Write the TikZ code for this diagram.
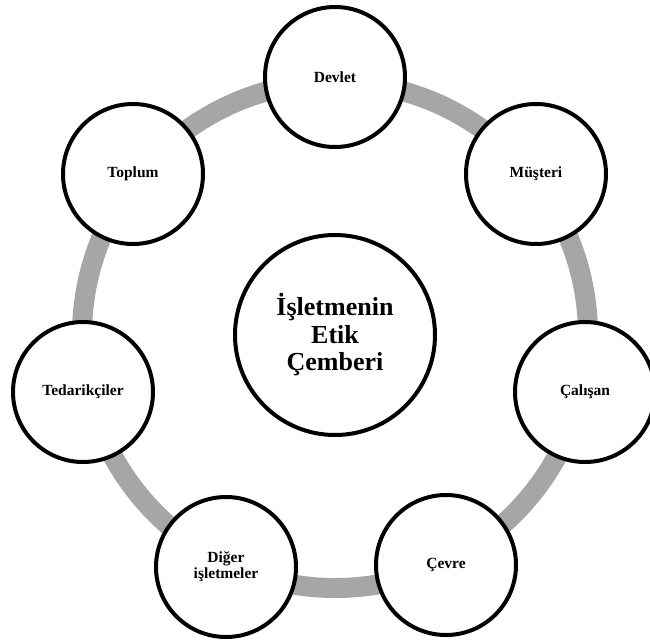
\documentclass[tikz,border=0pt]{standalone}
\usepackage{fontspec}
\setmainfont{Liberation Serif}
\definecolor{ringgray}{HTML}{A6A6A6}
\begin{document}
\begin{tikzpicture}[
  stake/.style={circle, draw=black, line width=4pt, fill=white, minimum size=140pt, inner sep=0pt, align=center, font=\bfseries\fontsize{15.5}{16}\selectfont},
  hub/.style={circle, draw=black, line width=4pt, fill=white, minimum size=200pt, inner sep=0pt, align=center, font=\bfseries\fontsize{26}{27.5}\selectfont}
]
\useasboundingbox (-335pt,-306pt) rectangle (315pt,335pt);
\coordinate (c) at (0,0);
\draw[ringgray, line width=20pt] (c) circle (253pt);
\node[hub] (center) at (c) {İşletmenin\\Etik\\Çemberi};
\node[stake] (devlet) at (0pt,258pt) {Devlet};
\node[stake] (musteri) at (201pt,161pt) {Müşteri};
\node[stake] (calisan) at (250pt,-57pt) {Çalışan};
\node[stake] (cevre) at (111pt,-230pt) {Çevre};
\node[stake] (diger) at (-109pt,-232pt) {Diğer\\işletmeler};
\node[stake] (tedarik) at (-252pt,-57pt) {Tedarikçiler};
\node[stake] (toplum) at (-202pt,161pt) {Toplum};
\end{tikzpicture}
\end{document}
